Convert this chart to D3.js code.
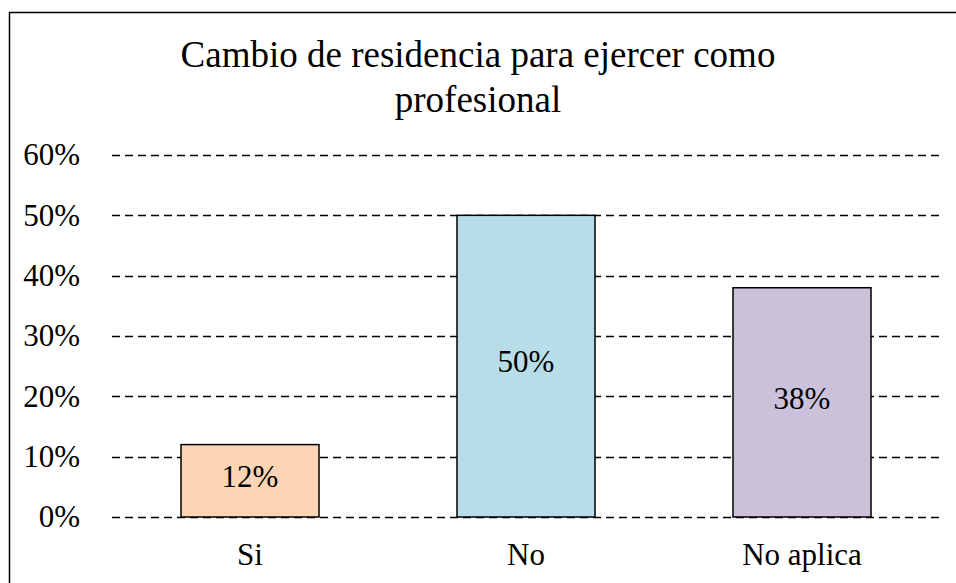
<!DOCTYPE html>
<html>
<head>
<meta charset="utf-8">
<script src="https://cdn.jsdelivr.net/npm/d3@7"></script>
<style>
  body { margin: 0; background: #fff; }
  svg { display: block; }
  svg text { font-family: 'Liberation Serif', 'Times New Roman', serif; fill: #000; }
</style>
</head>
<body>
<div id="chart"></div>
<script>
var categories = ['Si', 'No', 'No aplica']
var values = [0.12, 0.50, 0.38]
var colors = ['#FCD5B5', '#B7DEE8', '#CCC1DA']
var yTicks = [0, 0.1, 0.2, 0.3, 0.4, 0.5, 0.6]
var titleLines = ['Cambio de residencia para ejercer como', 'profesional']

var width = 956, height = 583
var margin = { top: 155, right: 16, bottom: 66, left: 112 }
var w = width - margin.left - margin.right
var h = height - margin.top - margin.bottom
var serif = "'Liberation Serif', 'Times New Roman', serif"

var svg = d3.select('#chart').append('svg')
  .attr('width', width)
  .attr('height', height)

// chart border (right and bottom edges fall outside the picture)
svg.append('rect')
  .attr('x', 9.5).attr('y', 12.5)
  .attr('width', width).attr('height', height)
  .attr('fill', 'none')
  .attr('stroke', '#000')
  .attr('stroke-width', 1.5)

svg.append('text')
  .attr('x', 478)
  .attr('y', 67)
  .attr('text-anchor', 'middle')
  .attr('font-family', serif)
  .style('font-size', '37px')
  .selectAll('tspan')
  .data(titleLines)
  .enter()
  .append('tspan')
  .attr('x', 478)
  .attr('dy', function (d, i) { return i === 0 ? 0 : 45 })
  .text(function (d) { return d })

var g = svg.append('g')
  .attr('transform', 'translate(' + margin.left + ',' + margin.top + ')')

var x = d3.scaleBand().domain(categories).range([0, w]).paddingInner(0.5).paddingOuter(0.25)
var y = d3.scaleLinear().domain([0, 0.6]).range([h, 0])

// dashed gridlines
g.append('g')
  .selectAll('line')
  .data(yTicks)
  .enter()
  .append('line')
  .attr('x1', 0).attr('x2', w)
  .attr('y1', function (d) { return Math.round(y(d)) + 0.5 })
  .attr('y2', function (d) { return Math.round(y(d)) + 0.5 })
  .attr('stroke', '#000')
  .attr('stroke-width', 1.5)
  .attr('stroke-dasharray', '8,5')

var yAxis = g.append('g')
  .call(d3.axisLeft(y).tickValues(yTicks).tickFormat(d3.format('.0%')).tickSize(0).tickPadding(32))
  .attr('font-family', serif)
  .attr('font-size', 31)
yAxis.select('.domain').remove()
yAxis.selectAll('text')
  .attr('dy', '0.32em')
  .attr('fill', '#000')

var xAxis = g.append('g')
  .attr('transform', 'translate(0,' + h + ')')
  .call(d3.axisBottom(x).tickSize(0).tickPadding(24))
  .attr('font-family', serif)
  .attr('font-size', 31)
xAxis.select('.domain').remove()
xAxis.selectAll('text')
  .attr('y', 48)
  .attr('dy', 0)
  .attr('fill', '#000')

g.selectAll('.bar')
  .data(values)
  .enter()
  .append('rect')
  .attr('class', 'bar')
  .attr('x', function (d, i) { return x(categories[i]) })
  .attr('y', function (d) { return y(d) })
  .attr('width', x.bandwidth())
  .attr('height', function (d) { return h - y(d) })
  .attr('fill', function (d, i) { return colors[i] })
  .attr('stroke', '#000')
  .attr('stroke-width', 1.5)

g.selectAll('.label')
  .data(values)
  .enter()
  .append('text')
  .attr('class', 'label')
  .attr('x', function (d, i) { return x(categories[i]) + x.bandwidth() / 2 })
  .attr('y', function (d) { return (y(d) + h) / 2 })
  .attr('dy', '0.2em')
  .attr('text-anchor', 'middle')
  .attr('font-family', serif)
  .style('font-size', '31px')
  .text(function (d) { return d3.format('.0%')(d) })
</script>
</body>
</html>
